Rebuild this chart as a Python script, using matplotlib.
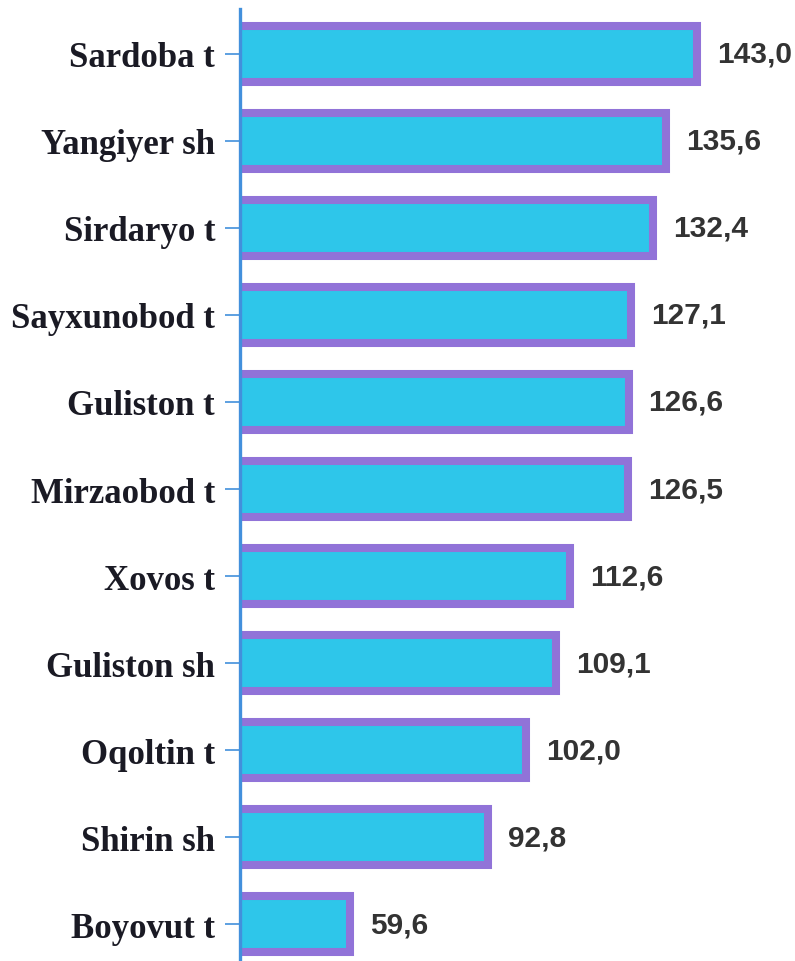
import numpy as np
import matplotlib.pyplot as plt

# данные
regions = ['Sardoba t', 'Yangiyer sh', 'Sirdaryo t', 'Sayxunobod t', 'Guliston t',
           'Mirzaobod t', 'Xovos t', 'Guliston sh', 'Oqoltin t', 'Shirin sh', 'Boyovut t']
values = [143.0, 135.6, 132.4, 127.1, 126.6, 126.5, 112.6, 109.1, 102.0, 92.8, 59.6]
value_labels = ['143,0', '135,6', '132,4', '127,1', '126,6', '126,5',
                '112,6', '109,1', '102,0', '92,8', '59,6']

fig = plt.figure(figsize=(7.95, 9.62), dpi=100)
ax = fig.add_axes([240 / 795, 0.0, 1 - 240 / 795, (962 - 10) / 962])

y = np.arange(len(regions))
ax.barh(y, values, height=0.65, color='#2ec6ea', edgecolor='#9173d8', linewidth=5.8)

# подписи значений
for yi, v, lab in zip(y, values, value_labels):
    ax.text(v + 4.8, yi, lab, va='center', ha='left', fontsize=21.5,
            fontweight='bold', family='Liberation Sans', color='#333333')

ax.set_xlim(33.2, 166.6)
ax.set_ylim(10.425, -0.517)
ax.set_yticks(y)
ax.set_yticklabels(regions, fontsize=25, fontweight='bold',
                   family='Liberation Serif', color='#1a1a24')
ax.set_xticks([])

for s in ['top', 'right', 'bottom']:
    ax.spines[s].set_visible(False)
ax.spines['left'].set_color('#4290dc')
ax.spines['left'].set_linewidth(2.4)
ax.tick_params(axis='y', length=11, width=1.2, color='#4290dc', pad=7)

fig.savefig('out.png', dpi=100)
